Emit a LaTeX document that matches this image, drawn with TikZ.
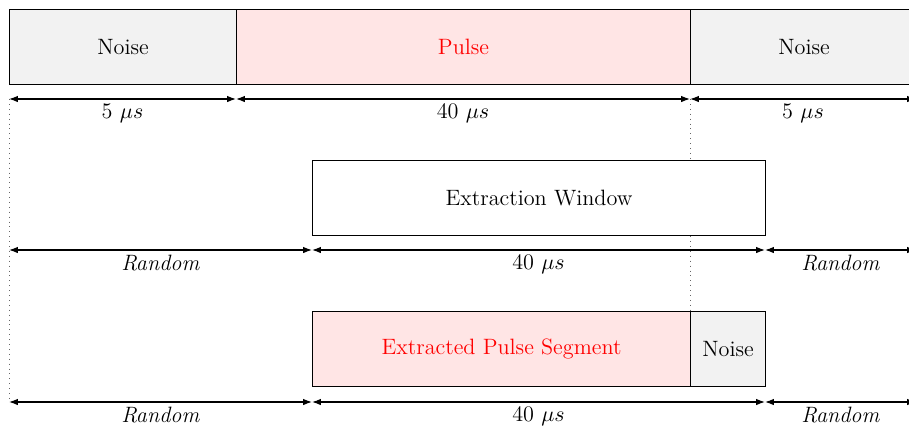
\documentclass[tikz,border=0pt]{standalone}
\usetikzlibrary{arrows.meta}
\begin{document}
\begin{tikzpicture}[x=0.5pt,y=-0.5pt, line width=0.55pt,
  every node/.style={font=\fontsize{11.1}{13.3}\selectfont},
  box/.style={draw, inner sep=0pt, anchor=north west, minimum height=37.5pt},
  noisebox/.style={box, fill=gray!10},
  pulsebox/.style={box, fill=red!10, text=red},
  dim/.style={{Latex[length=4.4pt,width=3.2pt]}-{Latex[length=4.4pt,width=3.2pt]}},
  guide/.style={dotted, line width=0.45pt, black!60},
  dimlabel/.style={midway, below, inner sep=2.2pt}]
\clip (0,0) rectangle (909,430);

% guide lines
\coordinate (g0) at (9,99);
\coordinate (g1) at (9,402);
\coordinate (g2) at (690,99);
\coordinate (g3) at (690,311);
\draw[guide] (g0) -- (g1);
\draw[guide] (g2) -- (g3);

% full signal
\node[noisebox, minimum width=113.5pt] (noiseA) at (9,9) {Noise};
\node[pulsebox, minimum width=227pt] (pulse) at (236,9) {Pulse};
\node[noisebox, minimum width=113.5pt] (noiseB) at (690,9) {Noise};

\coordinate (a0) at (9,99);
\coordinate (a1) at (236,99);
\coordinate (a2) at (690,99);
\coordinate (a3) at (916,99);
\draw[dim] (a0) -- (a1) node[dimlabel] {5 $\mu s$};
\draw[dim] (a1) -- (a2) node[dimlabel] {40 $\mu s$};
\draw[dim] (a2) -- (a3) node[dimlabel] {5 $\mu s$};

% extraction window
\node[box, fill=white, minimum width=226.5pt] (window) at (312,160) {Extraction Window};

\coordinate (b0) at (9,250);
\coordinate (b1) at (312,250);
\coordinate (b2) at (765,250);
\coordinate (b3) at (916,250);
\draw[dim] (b0) -- (b1) node[dimlabel] {\textit{Random}};
\draw[dim] (b1) -- (b2) node[dimlabel] {40 $\mu s$};
\draw[dim] (b2) -- (b3) node[dimlabel] {\textit{Random}};

% extracted segment
\node[pulsebox, minimum width=189pt] (segment) at (312,311) {Extracted Pulse Segment};
\node[noisebox, minimum width=37.5pt] (tail) at (690,311) {Noise};

\coordinate (c0) at (9,402);
\coordinate (c1) at (312,402);
\coordinate (c2) at (765,402);
\coordinate (c3) at (916,402);
\draw[dim] (c0) -- (c1) node[dimlabel] {\textit{Random}};
\draw[dim] (c1) -- (c2) node[dimlabel] {40 $\mu s$};
\draw[dim] (c2) -- (c3) node[dimlabel] {\textit{Random}};
\end{tikzpicture}
\end{document}
